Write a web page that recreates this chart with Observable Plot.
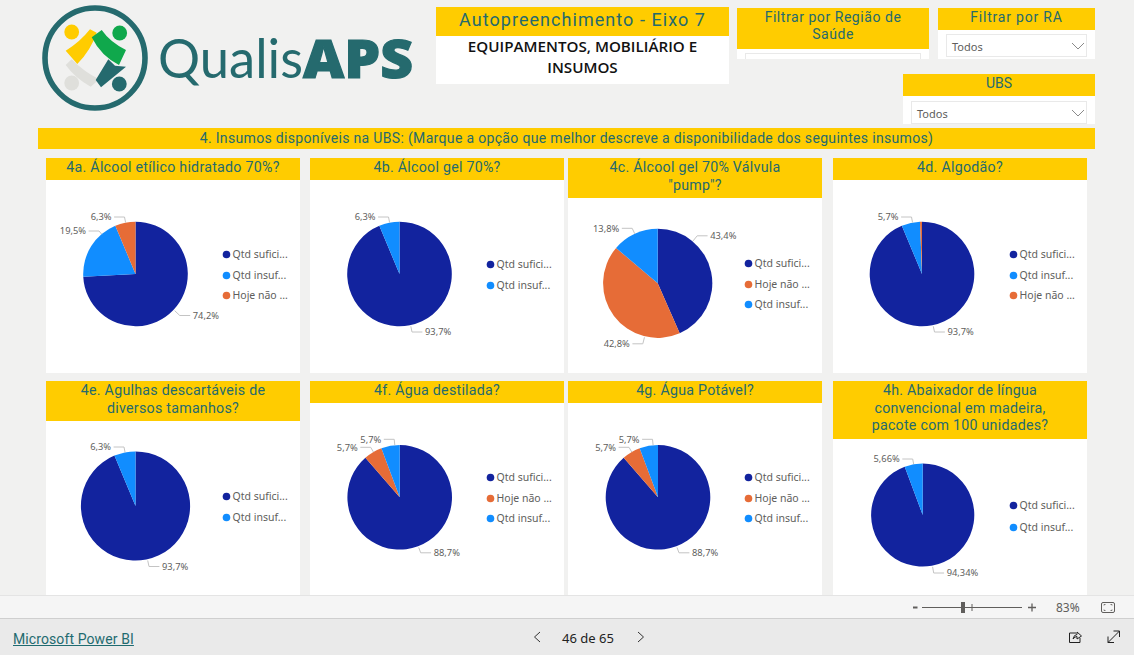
<!DOCTYPE html>
<html lang="pt">
<head>
<meta charset="utf-8">
<script src="https://cdn.jsdelivr.net/npm/d3@7"></script>
<script src="https://cdn.jsdelivr.net/npm/@observablehq/plot@0.6"></script>
<style>
html,body{margin:0;padding:0;width:1134px;height:655px;overflow:hidden;background:#f1f1f0;font-family:Roboto,sans-serif}
.abs{position:absolute}
.y{background:#ffcc00;color:#256a6e;text-align:center;font-family:Roboto,sans-serif;box-sizing:border-box}
.w{background:#fff}
.drop{background:#fff;border:1px solid #e9e9e9;box-sizing:border-box;color:#605e5c;font:11px "Noto Sans",sans-serif;padding:4px 0 0 5px}
.panel{overflow:hidden;background:#fff}
.panel svg{display:block}
.ph{font-size:14.2px;line-height:17.5px;padding-top:1px;letter-spacing:.27px}
#stage{position:absolute;left:0;top:0;width:1134px;height:655px;overflow:hidden}
</style>
</head>
<body>
<div id="stage"></div>
<script>
// ---- chart data ----
const categories = ["Qtd suficiente","Qtd insuficiente","Hoje não"];
const legendLabels = ["Qtd sufici...","Qtd insuf...","Hoje não ..."];
const colors = ["#12239E","#118DFF","#E66C37"];
const questions = [
  "4a. Álcool etílico hidratado 70%?",
  "4b. Álcool gel 70%?",
  "4c. Álcool gel 70% Válvula<br>\"pump\"?",
  "4d. Algodão?",
  "4e. Agulhas descartáveis de<br>diversos tamanhos?",
  "4f. Água destilada?",
  "4g. Água Potável?",
  "4h. Abaixador de língua<br>convencional em madeira,<br>pacote com 100 unidades?"
];
const sliceCategories = [[0,1,2],[0,1],[0,2,1],[0,1,2],[0,1],[0,2,1],[0,2,1],[0,1]];
const sliceValues = [
  [74.2,19.5,6.3],
  [93.7,6.3],
  [43.4,42.8,13.8],
  [93.7,5.7,0.6],
  [93.7,6.3],
  [88.7,5.7,5.7],
  [88.7,5.7,5.7],
  [94.34,5.66]
];
const sliceLabels = [
  ["74,2%","19,5%","6,3%"],
  ["93,7%","6,3%"],
  ["43,4%","42,8%","13,8%"],
  ["93,7%","5,7%",null],
  ["93,7%","6,3%"],
  ["88,7%","5,7%","5,7%"],
  ["88,7%","5,7%","5,7%"],
  ["94,34%","5,66%"]
];
// ---- layout (page pixels) ----
const panelBox = [
  {x:46,w:254,top:158,head:22,bottom:373,cx:135.5,cy:274,r:52.3,lx:226,ly:[254,275,295]},
  {x:310,w:254,top:158,head:22,bottom:373,cx:399.5,cy:274,r:52.3,lx:490,ly:[264,285]},
  {x:568,w:254,top:158,head:40,bottom:373,cx:657.7,cy:283.3,r:54.6,lx:748,ly:[263,284,304]},
  {x:833,w:254,top:158,head:22,bottom:373,cx:922,cy:274,r:52.3,lx:1013,ly:[254,275,295]},
  {x:46,w:254,top:381,head:40,bottom:595,cx:135.5,cy:506,r:54.6,lx:226,ly:[496,517]},
  {x:310,w:254,top:381,head:22,bottom:595,cx:399.7,cy:497.3,r:52.3,lx:490,ly:[477,498,518]},
  {x:568,w:254,top:381,head:22,bottom:595,cx:658,cy:497.3,r:52.3,lx:748,ly:[477,498,518]},
  {x:833,w:254,top:381,head:58,bottom:595,cx:922.7,cy:515,r:51.6,lx:1013,ly:[505,527]}
];
// leader elbow, relative to the pie centre, for each slice
const elbows = [
  [[43.8,41],[-37,-43.5],[-11.5,-57.5]],
  [[12,57.5],[-11.5,-57.5]],
  [[39,-48],[-15.4,60],[-26,-55.5]],
  [[12,57.5],[-11,-57.5],null],
  [[13,60],[-12,-59.5]],
  [[20.5,55],[-29.5,-50.5],[-6,-58.5]],
  [[20.5,55],[-29.5,-50.5],[-6,-58.5]],
  [[10.5,57.5],[-10.5,-56.5]]
];

const stage = document.getElementById("stage");
function box(cls,x,y,w,h,html,extra){
  const d=document.createElement("div");
  d.className="abs "+cls;
  d.style.cssText=`left:${x}px;top:${y}px;width:${w}px;height:${h}px;`+(extra||"");
  if(html!=null)d.innerHTML=html;
  stage.appendChild(d);return d;
}
const chevron=(x,y)=>`<svg class="abs" style="left:${x}px;top:${y}px" width="14" height="8"><path d="M1 1L7 7L13 1" fill="none" stroke="#8a8a8a"/></svg>`;

// logo
box("","0","0",430,125,`<svg width="430" height="125" xmlns="http://www.w3.org/2000/svg">
<circle cx="95" cy="58" r="50" fill="none" stroke="#256a6e" stroke-width="5.6"/>
<circle cx="71.7" cy="32" r="7.4" fill="#ffcc00"/><circle cx="119.7" cy="33" r="7.4" fill="#10a84c"/>
<circle cx="71.7" cy="83" r="7.4" fill="#dfdfdb"/><circle cx="119.3" cy="84" r="7.4" fill="#256a6e"/>
<path d="M65.700 65L71.700 59.300Q84 72 99.300 79.300L90.700 86.700Q75 78 65.700 65Z" fill="#dfdfdb"/>
<path d="M95.700 80L108.300 59.300L115 65.700L126 66.700L101 87.300Z" fill="#256a6e"/>
<path d="M65.700 50.700Q80 42 90 29.300L96.700 32.700Q91 50 77.300 64Z" fill="#ffcc00"/>
<path d="M91.700 37.300L101.700 30Q110 42 126 50L119 65Q101 56 91.700 37.300Z" fill="#10a84c"/>
<text x="158" y="78" font-family="Lato,'Open Sans',sans-serif" font-weight="400" font-size="54" fill="#256a6e" textLength="145" lengthAdjust="spacingAndGlyphs">Qualis</text>
<text x="303" y="78" font-family="'Open Sans',sans-serif" font-weight="800" font-size="53" fill="#256a6e" stroke="#256a6e" stroke-width="1.2" textLength="110" lengthAdjust="spacingAndGlyphs">APS</text>
</svg>`);

// title and filters
box("w",436,7,293,77);
box("y",436,7,293,29,"Autopreenchimento - Eixo 7","font-size:18px;line-height:25px;letter-spacing:1.05px");
box("",436,36,293,48,"EQUIPAMENTOS, MOBILIÁRIO E<br>INSUMOS","text-align:center;font:600 15.2px/21px 'Open Sans',sans-serif;color:#111");
box("w",737,8,192,51);
box("y",737,8,192,41,"Filtrar por Região de<br>Saúde","font-size:14px;line-height:17px;padding-top:1px;letter-spacing:.55px");
box("",745,53,176,6,null,"background:#fff;border:1px solid #e9e9e9;border-bottom:0;box-sizing:border-box");
box("w",938,8,157,51);
box("y",938,8,157,22,"Filtrar por RA","font-size:14px;line-height:19px;letter-spacing:.8px");
box("drop",946,34,141,23,"Todos"+chevron(124,7));
box("w",903,74,192,50);
box("y",903,74,192,22,"UBS","font-size:14px;line-height:19px");
box("drop",911,101,176,23,"Todos"+chevron(159,7));
box("y",38,128,1057,21,"4. Insumos disponíveis na UBS: (Marque a opção que melhor descreve a disponibilidade dos seguintes insumos)","font-size:14px;line-height:20px;letter-spacing:.33px");

// pies
questions.forEach((q,i)=>{
  const b=panelBox[i];
  box("y ph",b.x,b.top,b.w,b.head,q);
  const panel=box("panel",b.x,b.top+b.head,b.w,b.bottom-b.top-b.head);
  const slices=sliceValues[i].map((v,j)=>({
    value:v,
    category:categories[sliceCategories[i][j]],
    label:sliceLabels[i][j],
    elbow:elbows[i][j]
  }));
  const pie=d3.pie().value(d=>d.value).sort(null)(slices);
  const leaders=[],labels=[];
  slices.forEach((s,j)=>{
    if(!s.label)return;
    const [ex,ey]=s.elbow, len=Math.hypot(ex,ey), sgn=ex<0?-1:1;
    const k=(b.r+1)/len;
    leaders.push({x:b.cx+ex*k,y:b.cy+ey*k,j},{x:b.cx+ex,y:b.cy+ey,j},{x:b.cx+ex+sgn*10,y:b.cy+ey,j});
    labels.push({x:b.cx+ex+sgn*13,y:b.cy+ey+.5,text:s.label,sgn});
  });
  const legend=b.ly.map((y,j)=>{
    const c=sliceCategories[i][j];
    return {x:b.lx,y,category:categories[c],text:legendLabels[c]};
  });
  const fmtFont="'Noto Sans',sans-serif";
  const plot=Plot.plot({
    width:b.w,height:b.bottom-b.top-b.head,
    marginTop:0,marginBottom:0,marginLeft:0,marginRight:0,
    x:{domain:[b.x,b.x+b.w],range:[0,b.w],axis:null},
    y:{domain:[b.top+b.head,b.bottom],range:[0,b.bottom-b.top-b.head],axis:null},
    color:{domain:categories,range:colors},
    style:{background:"#fff",fontFamily:fmtFont},
    marks:[
      Plot.dot(pie,{
        x:()=>b.cx,y:()=>b.cy,fill:d=>d.data.category,r:1,
        render(index,scales,values){
          const g=d3.create("svg:g");
          const arc=d3.arc().innerRadius(0).outerRadius(b.r);
          for(const k of index){
            g.append("path")
              .attr("transform",`translate(${values.x[k]},${values.y[k]})`)
              .attr("d",arc(pie[k]))
              .attr("fill",values.fill[k]);
          }
          return g.node();
        }
      }),
      Plot.line(leaders,{x:"x",y:"y",z:"j",stroke:"#c4c4c4",strokeWidth:1,curve:"linear"}),
      Plot.text(labels.filter(d=>d.sgn>0),{x:"x",y:"y",text:"text",textAnchor:"start",fontSize:9.3,fill:"#605e5c"}),
      Plot.text(labels.filter(d=>d.sgn<0),{x:"x",y:"y",text:"text",textAnchor:"end",fontSize:9.3,fill:"#605e5c"}),
      Plot.dot(legend,{x:"x",y:"y",fill:"category",r:3.8}),
      Plot.text(legend,{x:d=>d.x+6,y:"y",text:"text",textAnchor:"start",fontSize:10.5,fill:"#605e5c"})
    ]
  });
  panel.appendChild(plot);
});

// footer chrome
box("",0,595,1134,24,null,"background:#f5f5f5;border-top:1px solid #e4e4e4;border-bottom:1px solid #cfcfcf;box-sizing:border-box");
box("",0,619,1134,36,null,"background:#eaeaea");
box("",0,595,1134,60,`<svg width="1134" height="60" xmlns="http://www.w3.org/2000/svg" style="display:block">
<g stroke="#605e5c" fill="none">
<path d="M913 12.5H917.5" stroke-width="2"/>
<path d="M922 12.5H1022"/><path d="M972 9V16"/>
<rect x="961" y="7" width="4" height="11" fill="#605e5c" stroke="none"/>
<path d="M1028 12.5H1036M1032 8.5V16.5" stroke-width="1.3"/>
<rect x="1101.5" y="7.5" width="13" height="10" rx="1.5"/>
<path d="M1104 10.5V9.5H1105.5M1112 10.5V9.5H1110.5M1104 14.5V15.5H1105.5M1112 14.5V15.5H1110.5" stroke-width=".8"/>
<path d="M540 37L534.5 42L540 47M638 37L643.500 42L638 47" stroke="#333"/>
<path d="M1076 38H1069.500V47.500H1080V43" stroke="#222"/>
<path d="M1073 44Q1074 39.500 1077 39.500V37L1081.500 41L1077 44V41.500Q1075 41.500 1073 44Z" stroke="#222"/>
<path d="M1108 47.500L1119.500 36M1113.500 36H1119.500V42M1108 41.500V47.500H1114" stroke="#222"/>
</g></svg>`);
box("",1056,598.500,30,14,"83%","font:12px 'Noto Sans',sans-serif;color:#605e5c");
box("",13,631,130,18,"Microsoft Power BI","font:14px/17px Roboto,sans-serif;color:#1f6b70;text-decoration:underline;letter-spacing:.1px");
box("",550,630,76,18,"46 de 65","font:13px/17px 'Noto Sans',sans-serif;color:#222;text-align:center");
</script>
</body>
</html>
